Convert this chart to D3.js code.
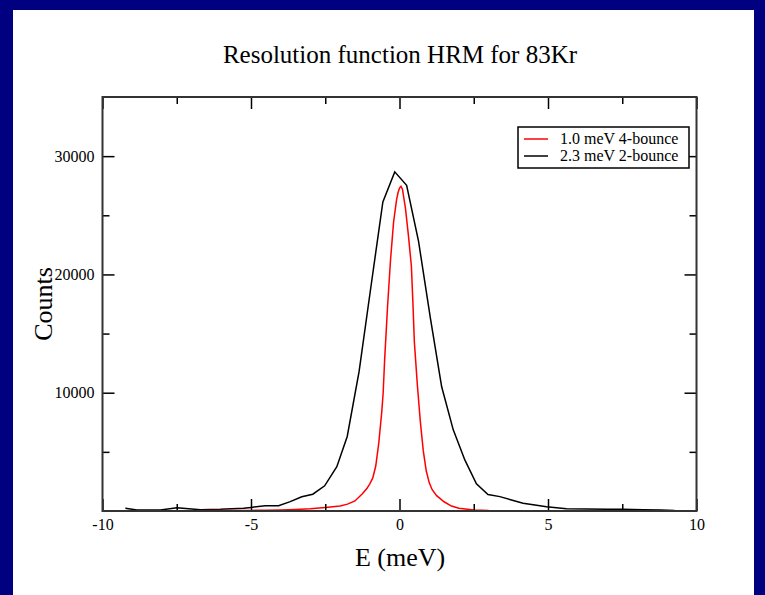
<!DOCTYPE html>
<html><head><meta charset="utf-8">
<script src="https://cdn.jsdelivr.net/npm/d3@7"></script>
<style>html,body{margin:0;padding:0;background:#000080;}svg{display:block;}</style>
</head><body>
<svg id="c" width="765" height="595"></svg>
<script>
// ---- data ----
const title = "Resolution function HRM for 83Kr";
const xLabel = "E (meV)";
const yLabel = "Counts";
const xTicks = [-10, -5, 0, 5, 10];
const xMinorTicks = [-7.5, -2.5, 2.5, 7.5];
const yTicks = [10000, 20000, 30000];
const yMinorTicks = [5000, 15000, 25000];
const seriesNames = ["1.0 meV 4-bounce", "2.3 meV 2-bounce"];
const seriesColors = ["#ff0000", "#000000"];

const redE = [-8.5,-7,-6,-5,-4.5,-4,-3.5,-3,-2.5,-2,-1.75,-1.5,-1.25,-1.1,-1.0,-0.9,-0.8,-0.7,-0.6,-0.55,-0.5,-0.4,-0.3,-0.2,-0.1,-0.05,0,0.05,0.1,0.2,0.3,0.4,0.45,0.5,0.55,0.6,0.7,0.8,0.9,1.0,1.1,1.25,1.5,1.75,2.0,2.5,3.0,4.0,5.0];
const redC = [20,30,40,50,70,85,120,180,290,420,580,850,1450,1900,2300,2800,3800,5700,8300,10000,12800,17400,21300,24400,26300,26900,27300,27450,27200,25600,23300,20700,17700,14300,12500,10700,7600,5100,3400,2400,1800,1300,780,420,230,80,40,20,10];

const blackE = [-9.23,-8.84,-8.05,-7.49,-6.7,-6.03,-5.25,-5.0,-4.52,-4.07,-3.68,-3.29,-2.92,-2.52,-2.11,-1.76,-1.36,-0.96,-0.56,-0.16,0.24,0.64,1.04,1.42,1.81,2.2,2.59,2.98,3.38,3.77,4.16,4.56,4.95,5.62,6.3,7.0,7.5,8.2,8.8,9.26];
const blackC = [230,90,90,280,100,140,230,300,450,450,790,1200,1420,2130,3750,6300,11800,19000,26130,28670,27540,22820,16300,10500,6860,4320,2290,1400,1215,930,650,500,365,200,170,150,140,100,80,40];

// ---- drawing ----
const svg = d3.select("#c");
svg.append("rect").attr("x",13).attr("y",10).attr("width",741).attr("height",585).attr("fill","#fff");

const L = 102.5, R = 696.5, T = 97, B = 511;
const x = d3.scaleLinear().domain([-10,10]).range([L,R]);
const y = d3.scaleLinear().domain([0,35000]).range([B,T]);
const serif = "'Liberation Serif','Times New Roman',serif";
const fmt = d => String(d);

const line = d3.line().x(d=>x(d[0])).y(d=>y(d[1]));
const series = [d3.zip(redE, redC), d3.zip(blackE, blackC)];
const plot = svg.append("g");
plot.append("path").datum(series[1]).attr("d",line).attr("fill","none").attr("stroke",seriesColors[1]).attr("stroke-width",1.5);
plot.append("path").datum(series[0]).attr("d",line).attr("fill","none").attr("stroke",seriesColors[0]).attr("stroke-width",1.5);

function styleAxis(g){ g.attr("font-family",serif).attr("font-size",16); g.select(".domain").remove(); g.selectAll("line").attr("stroke","#000").attr("stroke-width",1.5); g.selectAll("text").attr("fill","#000"); }

// bottom
svg.append("g").attr("transform",`translate(0,${B})`).call(d3.axisBottom(x).tickValues(xTicks).tickSize(-12).tickPadding(8).tickFormat(fmt)).call(styleAxis);
svg.append("g").attr("transform",`translate(0,${B})`).call(d3.axisBottom(x).tickValues(xMinorTicks).tickSize(-7).tickFormat("")).call(styleAxis);
// top
svg.append("g").attr("transform",`translate(0,${T})`).call(d3.axisTop(x).tickValues(xTicks).tickSize(-12).tickFormat("")).call(styleAxis);
svg.append("g").attr("transform",`translate(0,${T})`).call(d3.axisTop(x).tickValues(xMinorTicks).tickSize(-7).tickFormat("")).call(styleAxis);
// left
svg.append("g").attr("transform",`translate(${L},0)`).call(d3.axisLeft(y).tickValues(yTicks).tickSize(-12).tickPadding(8).tickFormat(fmt)).call(styleAxis);
svg.append("g").attr("transform",`translate(${L},0)`).call(d3.axisLeft(y).tickValues(yMinorTicks).tickSize(-7).tickFormat("")).call(styleAxis);
// right
svg.append("g").attr("transform",`translate(${R},0)`).call(d3.axisRight(y).tickValues(yTicks).tickSize(-12).tickFormat("")).call(styleAxis);
svg.append("g").attr("transform",`translate(${R},0)`).call(d3.axisRight(y).tickValues(yMinorTicks).tickSize(-7).tickFormat("")).call(styleAxis);

svg.append("rect").attr("x",L).attr("y",T).attr("width",R-L).attr("height",B-T).attr("fill","none").attr("stroke","#333").attr("stroke-width",2);

// titles
svg.append("text").attr("x",400).attr("y",63).attr("text-anchor","middle").attr("font-family",serif).attr("font-size",25).text(title);
svg.append("text").attr("x",400).attr("y",566).attr("text-anchor","middle").attr("font-family",serif).attr("font-size",26).text(xLabel);
svg.append("text").attr("transform",`translate(52,${(T+B)/2}) rotate(-90)`).attr("text-anchor","middle").attr("font-family",serif).attr("font-size",26).text(yLabel);

// legend
const lg = svg.append("g");
lg.append("rect").attr("x",518).attr("y",127).attr("width",171).attr("height",41).attr("fill","#fff").attr("stroke","#000").attr("stroke-width",1.5);
seriesNames.forEach((n,i)=>{
  const yy = 139 + i*17;
  lg.append("line").attr("x1",524).attr("x2",548).attr("y1",yy).attr("y2",yy).attr("stroke",seriesColors[i]).attr("stroke-width",1.5);
  lg.append("text").attr("x",560).attr("y",yy+5).attr("font-family",serif).attr("font-size",16).text(n);
});
</script>
</body></html>
